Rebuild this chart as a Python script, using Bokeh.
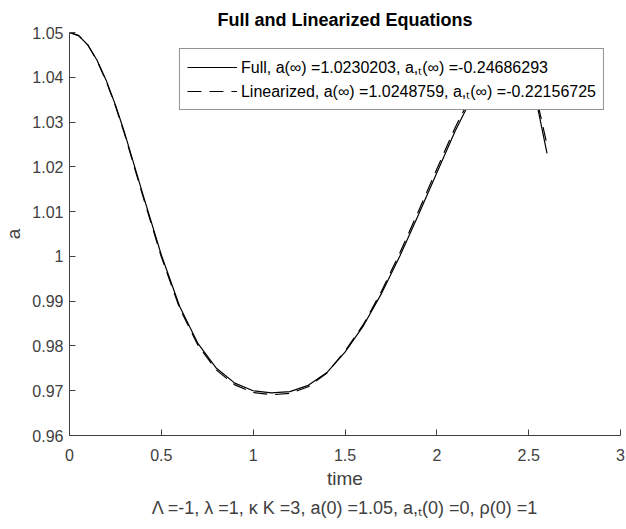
from bokeh.plotting import figure
from bokeh.models import (Legend, LegendItem, FixedTicker, CustomJSTickFormatter,
                          Range1d, Title)
from bokeh.embed import file_html
from bokeh.resources import INLINE

# ---- data ----
time = [0.0, 0.05, 0.1, 0.15, 0.2, 0.25, 0.3, 0.4, 0.5, 0.6, 0.7, 0.8, 0.9, 1.0,
        1.1, 1.2, 1.3, 1.4, 1.5, 1.6, 1.7, 1.8, 1.9, 2.0, 2.1, 2.2, 2.3, 2.4,
        2.45, 2.5, 2.55, 2.6]
a_full = [1.0500, 1.0493, 1.0472, 1.0438, 1.0393, 1.0338, 1.0276, 1.0138, 1.0003,
          0.9888, 0.9805, 0.9750, 0.9717, 0.9700, 0.9695, 0.9698, 0.9712, 0.9740,
          0.9786, 0.9845, 0.9918, 1.0002, 1.0093, 1.0187, 1.0280, 1.0362, 1.0415,
          1.0435, 1.0428, 1.0400, 1.0330, 1.0230]
a_lin = [1.0500, 1.0493, 1.0472, 1.0437, 1.0391, 1.0336, 1.0273, 1.0134, 0.9999,
         0.9884, 0.9801, 0.9746, 0.9713, 0.9696, 0.9691, 0.9694, 0.9709, 0.9739,
         0.9788, 0.9848, 0.9923, 1.0009, 1.0101, 1.0195, 1.0288, 1.0369, 1.0421,
         1.0440, 1.0434, 1.0408, 1.0341, 1.0249]
x_ticks = [0, 0.5, 1, 1.5, 2, 2.5, 3]
y_ticks = [0.96, 0.97, 0.98, 0.99, 1.00, 1.01, 1.02, 1.03, 1.04, 1.05]
label_full = "Full, a(\u221e) =1.0230203, a,\u209c(\u221e) =-0.24686293"
label_lin = "Linearized, a(\u221e) =1.0248759, a,\u209c(\u221e) =-0.22156725"
title_text = "Full and Linearized Equations"
bottom_text = "\u039b =-1, \u03bb =1, \u03ba K =3, a(0) =1.05, a,\u209c(0) =0, \u03c1(0) =1"

FONT = "Liberation Sans"
AX = "#404040"

p = figure(width=626, height=529, output_backend="svg", toolbar_location=None,
           x_range=Range1d(0, 3), y_range=Range1d(0.96, 1.05),
           min_border_left=68, min_border_right=6, min_border_top=32,
           min_border_bottom=94, background_fill_color="white",
           border_fill_color="white")
p.outline_line_color = None
p.grid.visible = False

p.title.text = title_text
p.title.align = "center"
p.title.text_font = FONT
p.title.text_font_size = "18px"
p.title.text_font_style = "bold"
p.title.text_color = "#000000"
p.title.standoff = 6

fmt = CustomJSTickFormatter(code="return String(Number(tick.toFixed(2)));")

for ax, ticks in ((p.xaxis[0], x_ticks), (p.yaxis[0], y_ticks)):
    ax.ticker = FixedTicker(ticks=ticks)
    ax.formatter = fmt
    ax.major_tick_in = 6
    ax.major_tick_out = 0
    ax.minor_tick_line_color = None
    ax.axis_line_color = AX
    ax.major_tick_line_color = AX
    ax.major_label_text_font = FONT
    ax.major_label_text_font_size = "16px"
    ax.major_label_text_color = AX
    ax.axis_label_text_font = FONT
    ax.axis_label_text_font_size = "19px"
    ax.axis_label_text_font_style = "normal"
    ax.axis_label_text_color = AX

p.xaxis.axis_label = "time"
p.xaxis.major_label_standoff = 13
p.xaxis.axis_label_standoff = 4
p.yaxis.axis_label = "a"
p.yaxis.major_label_standoff = 6
p.yaxis.axis_label_standoff = 5

r_full = p.line(time, a_full, line_color="black", line_width=1.2)
r_lin = p.line(time, a_lin, line_color="black", line_width=1.2, line_dash="14 8")

bt = Title(text=bottom_text, align="center", text_font=FONT, text_font_size="18px",
           text_font_style="normal", text_color=AX, standoff=9)
p.add_layout(bt, "below")

legend = Legend(items=[LegendItem(label=label_full, renderers=[r_full]),
                       LegendItem(label=label_lin, renderers=[r_lin])],
                location="top_right", margin=16, padding=7, spacing=2,
                glyph_width=50, glyph_height=22, label_height=22,
                label_standoff=4, label_text_font=FONT,
                label_text_font_size="16px", label_text_color="#000000",
                border_line_color="#262626", border_line_width=1,
                background_fill_color="white", background_fill_alpha=1.0)
p.add_layout(legend)

open("out.html", "w").write(file_html(p, INLINE))
